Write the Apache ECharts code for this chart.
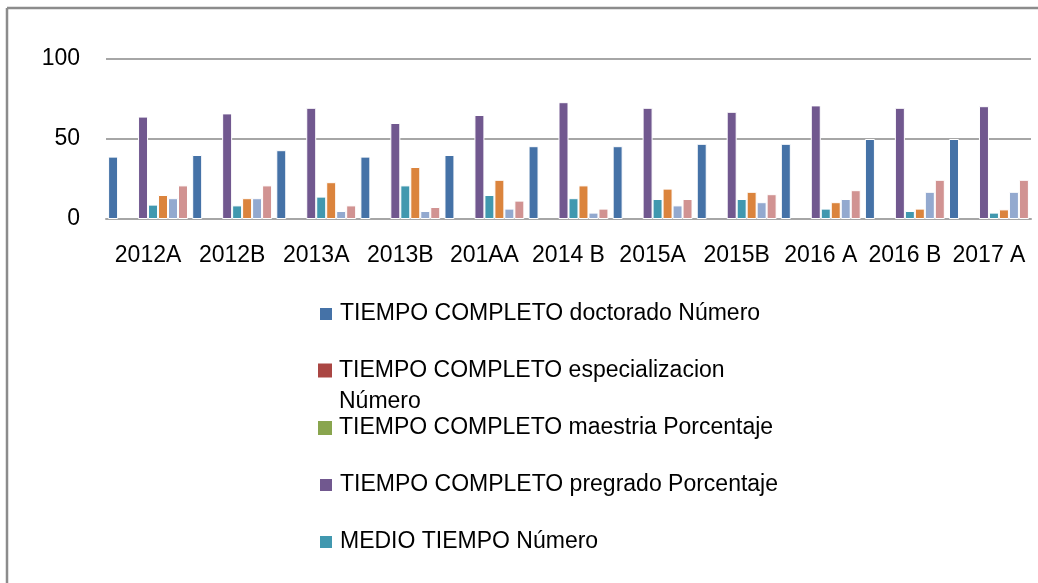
<!DOCTYPE html>
<html>
<head>
<meta charset="utf-8">
<script src="https://cdn.jsdelivr.net/npm/echarts@6/dist/echarts.min.js"></script>
<style>
  html, body { margin: 0; padding: 0; background: #fff; }
  #main { width: 1038px; height: 583px; }
</style>
</head>
<body>
<div id="main"></div>
<script>
// categorias del eje x
var categories = ['2012A', '2012B', '2013A', '2013B', '201AA', '2014 B', '2015A', '2015B', '2016 A', '2016 B', '2017 A'];
var yTicks = [0, 50, 100];

// valores
var doctorado = [39, 40, 43, 39, 40, 45.5, 45.5, 47, 47, 50, 50];
var especializacion = [0, 0, 0, 0, 0, 0, 0, 0, 0, 0, 0];
var maestria = [0, 0, 0, 0, 0, 0, 0, 0, 0, 0, 0];
var pregrado = [64, 66, 69.5, 60, 65, 73, 69.5, 67, 71, 69.5, 70.5];
var medioNumero = [9, 8.5, 14, 21, 15, 13, 12.5, 12.5, 6.5, 5, 4];
var medioPorc = [15, 13, 23, 32.5, 24.5, 21, 19, 17, 10.5, 6.5, 6];
var catedraNumero = [13, 13, 5, 5, 6.5, 4, 8.5, 10.5, 12.5, 17, 17];
var catedraPorc = [21, 21, 8.5, 7.5, 11.5, 6.5, 12.5, 15.5, 18, 24.5, 24.5];

var names = [
  'TIEMPO COMPLETO doctorado Número',
  'TIEMPO COMPLETO especializacion Número',
  'TIEMPO COMPLETO maestria Porcentaje',
  'TIEMPO COMPLETO pregrado Porcentaje',
  'MEDIO TIEMPO Número',
  'MEDIO TIEMPO Porcentaje',
  'CATEDRA Número',
  'CATEDRA Porcentaje'
];
var colors = ['#4572A7', '#AA4643', '#89A54E', '#71588F', '#4198AF', '#DB843D', '#93A9CF', '#D19392'];
var values = [doctorado, especializacion, maestria, pregrado, medioNumero, medioPorc, catedraNumero, catedraPorc];

var font = 'Liberation Sans';

var series = values.map(function (d, i) {
  return {
    name: names[i],
    type: 'bar',
    data: d,
    barGap: '0%',
    barCategoryGap: '5%',
    itemStyle: {
      color: colors[i],
      borderColor: '#fff',
      borderWidth: (i === 1 || i === 2) ? 0 : 1
    }
  };
});

// leyenda: solo se ven las 5 primeras (recortada en el original)
var legendTops = [300, 324, 414, 471, 528];
var legends = legendTops.map(function (t, i) {
  var lg = {
    orient: 'vertical',
    left: 318,
    top: t,
    padding: 0,
    itemWidth: 14,
    itemHeight: 14,
    icon: 'rect',
    selectedMode: false,
    data: [names[i]],
    textStyle: {
      fontFamily: font,
      fontSize: 23,
      color: '#000',
      lineHeight: 28,
      padding: [0, 0, 0, 2]
    }
  };
  if (i === 1) {
    // linea vacia arriba para que la primera linea quede junto al icono
    lg.formatter = function () { return '\u00a0\nTIEMPO COMPLETO especializacion\nNúmero'; };
    lg.textStyle.lineHeight = 31;
  }
  return lg;
});

var chart = echarts.init(document.getElementById('main'));

var option = {
  animation: false,
  backgroundColor: '#fff',
  grid: { left: 106, right: 7, top: 59, bottom: 364 },
  legend: legends,
  xAxis: {
    type: 'category',
    data: categories,
    axisTick: { show: false },
    axisLine: { lineStyle: { color: '#a6a6a6', width: 2 } },
    axisLabel: {
      fontFamily: font,
      fontSize: 23,
      color: '#000',
      lineHeight: 28,
      margin: 23,
      interval: 0
    }
  },
  yAxis: {
    type: 'value',
    min: yTicks[0],
    max: yTicks[yTicks.length - 1],
    interval: yTicks[1] - yTicks[0],
    axisLine: { show: false },
    axisTick: { show: false },
    splitLine: { lineStyle: { color: '#a6a6a6', width: 2 } },
    axisLabel: {
      fontFamily: font,
      fontSize: 23,
      color: '#000',
      margin: 26,
      padding: [5, 0, 0, 0]
    }
  },
  graphic: [
    { type: 'line', shape: { x1: 7, y1: 8, x2: 1038, y2: 8 }, style: { stroke: '#8c8c8c', lineWidth: 2.5 } },
    { type: 'line', shape: { x1: 7, y1: 8, x2: 7, y2: 583 }, style: { stroke: '#8c8c8c', lineWidth: 2.5 } }
  ],
  series: series
};

chart.setOption(option);
</script>
</body>
</html>
